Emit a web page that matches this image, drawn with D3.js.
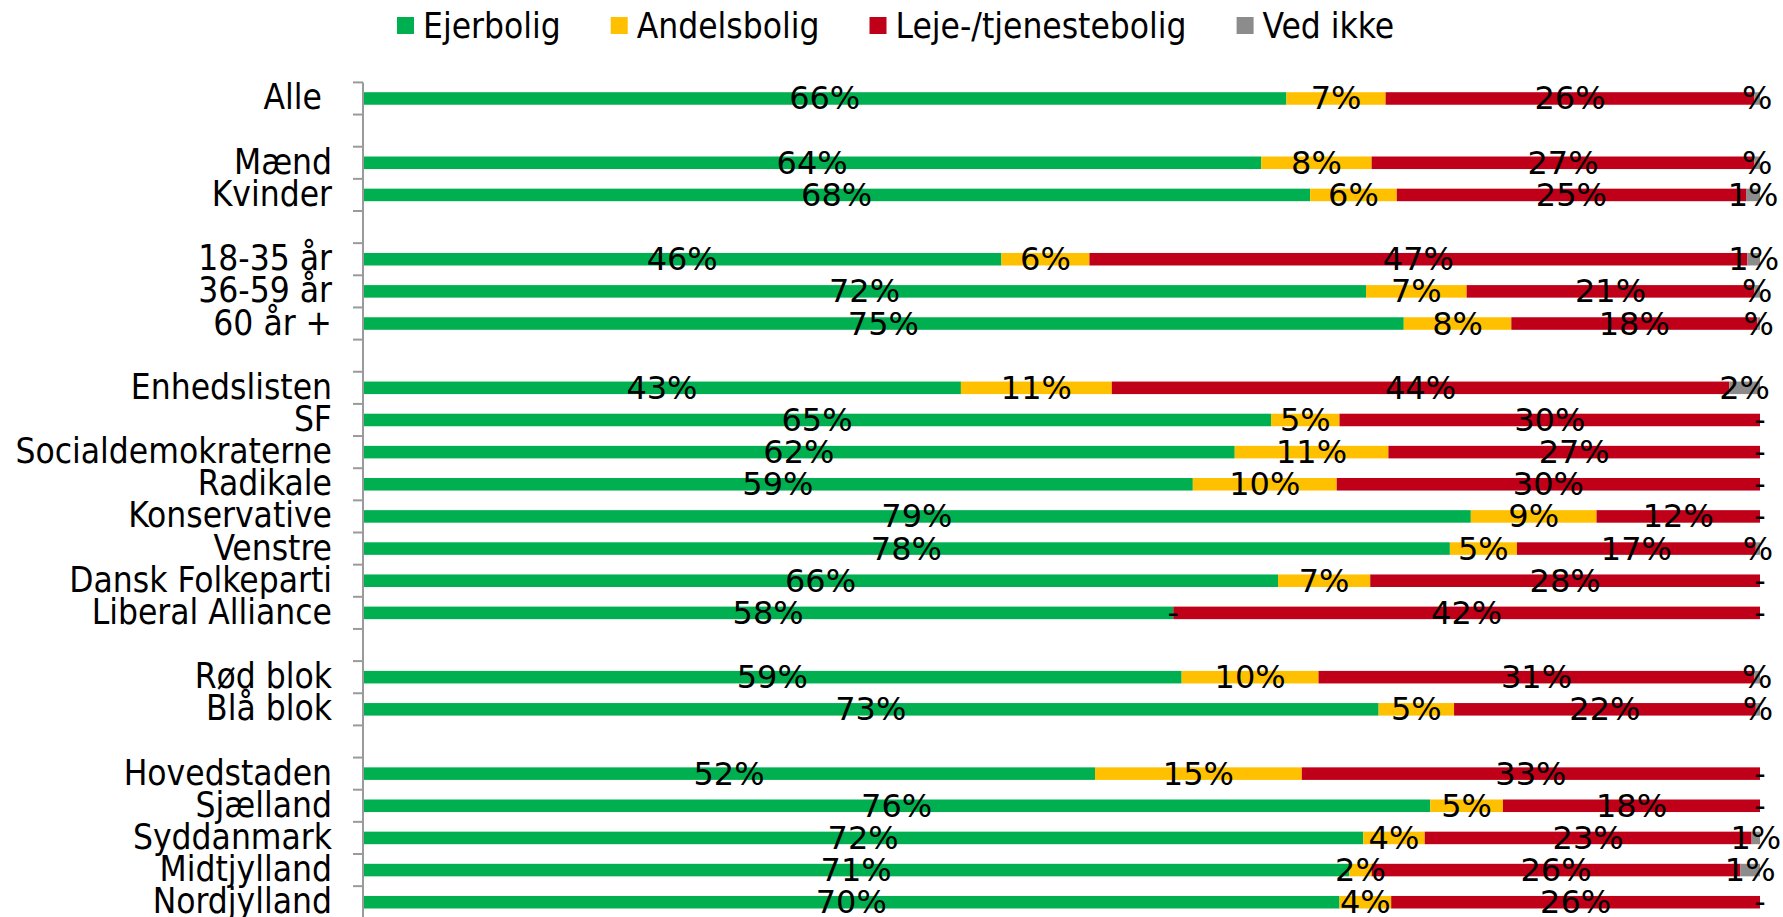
<!DOCTYPE html>
<html>
<head>
<meta charset="utf-8">
<script src="https://cdn.jsdelivr.net/npm/d3@7"></script>
<style>
  html, body { margin: 0; padding: 0; background: #fff; overflow: hidden; }
  svg { display: block; }
  text { font-family: "DejaVu Sans Condensed", "DejaVu Sans", sans-serif; fill: #000; }
  text.dl { font-family: "DejaVu Sans", sans-serif; }
</style>
</head>
<body>
<svg id="chart" width="1783" height="917"></svg>
<script>
const categories = ["Alle\u00A0", "", "Mænd", "Kvinder", "", "18-35 år", "36-59 år", "60 år +", "",
  "Enhedslisten", "SF", "Socialdemokraterne", "Radikale", "Konservative", "Venstre", "Dansk Folkeparti",
  "Liberal Alliance", "", "Rød blok", "Blå blok", "", "Hovedstaden", "Sjælland", "Syddanmark",
  "Midtjylland", "Nordjylland"];

const seriesNames = ["Ejerbolig", "Andelsbolig", "Leje-/tjenestebolig", "Ved ikke"];
const seriesColors = ["#00B050", "#FFC000", "#C00018", "#8C8C8C"];

const ejerbolig   = [66.1, null, 64.3, 67.8, null, 45.7, 71.8, 74.5, null, 42.8, 65.0, 62.4, 59.4, 79.3, 77.8, 65.5, 58.0, null, 58.6, 72.7, null, 52.4, 76.4, 71.6, 70.6, 69.9];
const andelsbolig = [7.1, null, 7.9, 6.2, null, 6.3, 7.2, 7.7, null, 10.8, 4.9, 11.0, 10.3, 9.0, 4.8, 6.6, 0, null, 9.8, 5.4, null, 14.8, 5.2, 4.4, 1.6, 3.7];
const leje        = [26.4, null, 27.4, 25.0, null, 47.1, 20.6, 17.6, null, 44.2, 30.1, 26.6, 30.3, 11.7, 17.1, 27.9, 42.0, null, 31.2, 21.6, null, 32.8, 18.4, 23.4, 26.4, 26.4];
const vedIkke     = [0.4, null, 0.4, 1.0, null, 0.9, 0.4, 0.2, null, 2.2, 0, 0, 0, 0, 0.3, 0, 0, null, 0.4, 0.3, null, 0, 0, 0.6, 1.4, 0];

const seriesValues = [ejerbolig, andelsbolig, leje, vedIkke];

const svg = d3.select("#chart");

const x = d3.scaleLinear().domain([0, 100]).range([363, 1760]);
const y = d3.scaleBand()
  .domain(d3.range(categories.length))
  .range([82.4, 82.4 + 32.15 * categories.length])
  .paddingInner(0.61)
  .paddingOuter(0.305);

// rows with data
const rows = categories.map((c, i) => {
  const r = { idx: i, name: c };
  seriesNames.forEach((s, k) => r[s] = seriesValues[k][i]);
  return r;
}).filter(r => r[seriesNames[0]] !== null);

const stacked = d3.stack().keys(seriesNames)(rows);

const fmt = v => v === 0 ? "-" : (Math.round(v) === 0 ? "%" : Math.round(v) + "%");

// bars
const layers = svg.append("g").selectAll("g")
  .data(stacked).join("g")
  .attr("fill", (d, k) => seriesColors[k]);

layers.selectAll("rect")
  .data(d => d).join("rect")
  .attr("x", d => x(d[0]))
  .attr("width", d => Math.max(0, x(d[1]) - x(d[0])))
  .attr("y", d => y(d.data.idx))
  .attr("height", y.bandwidth());

// axis line and boundary ticks
const axisG = svg.append("g");
const bandStep = y.step();
const yStart = y.range()[0];
axisG.append("line")
  .attr("x1", x(0)).attr("x2", x(0))
  .attr("y1", yStart).attr("y2", y.range()[1])
  .attr("stroke", "#9A9A9A").attr("stroke-width", 2);
axisG.selectAll("line.tick")
  .data(d3.range(categories.length + 1)).join("line")
  .attr("class", "tick")
  .attr("x1", x(0) - 10).attr("x2", x(0))
  .attr("y1", i => yStart + i * bandStep).attr("y2", i => yStart + i * bandStep)
  .attr("stroke", "#9A9A9A").attr("stroke-width", 2);

// category labels
svg.append("g").selectAll("text")
  .data(categories.map((c, i) => ({ c, i })).filter(d => d.c !== "")).join("text")
  .attr("x", x(0) - 31)
  .attr("y", d => y(d.i) + y.bandwidth() / 2 + 11)
  .attr("text-anchor", "end")
  .attr("font-size", 35)
  .text(d => d.c);

// data labels
const lbl = svg.append("g");
stacked.forEach(layer => {
  lbl.selectAll(null)
    .data(layer).join("text")
    .attr("class", "dl")
    .attr("x", d => (x(d[0]) + x(d[1])) / 2)
    .attr("y", d => y(d.data.idx) + y.bandwidth() / 2 + 11)
    .attr("text-anchor", "middle")
    .attr("font-size", 32)
    .text(d => fmt(d.data[layer.key]));
});

// legend
const leg = svg.append("g").attr("transform", "translate(397,0)");
let cx = 0;
seriesNames.forEach((s, k) => {
  const g = leg.append("g").attr("transform", `translate(${cx},0)`);
  g.append("rect").attr("x", 0).attr("y", 17).attr("width", 17).attr("height", 17).attr("fill", seriesColors[k]);
  const t = g.append("text").attr("x", 26).attr("y", 37.5).attr("font-size", 35).text(s);
  cx += 26 + t.node().getComputedTextLength() + 50;
});
</script>
</body>
</html>
